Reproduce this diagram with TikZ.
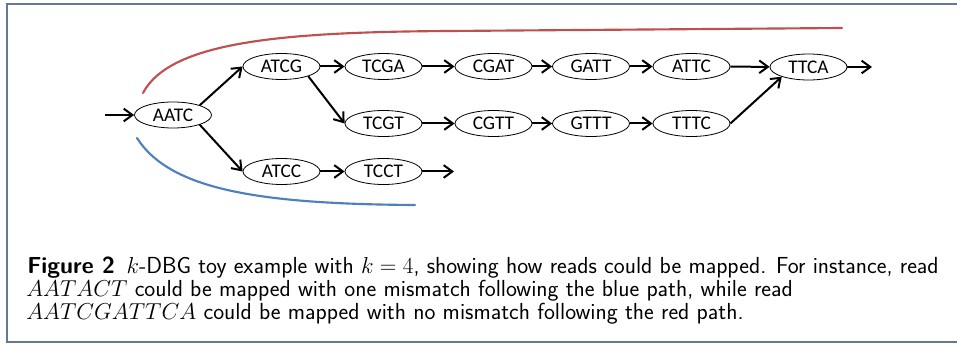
\documentclass[tikz,border=0pt]{standalone}
\usepackage{amsmath}
\usepackage{fontspec}
\usepackage{tikz}
\usetikzlibrary{shapes.geometric}
\usetikzlibrary{arrows.meta}
\newfontfamily\kmerfont{Carlito}
\definecolor{ColRed}{RGB}{192,80,77}
\definecolor{ColBlue}{RGB}{79,127,189}
\definecolor{ColFrame}{RGB}{98,122,150}
\tikzstyle{KmerNode}=[ellipse,draw=black,fill=white,line width=.6pt,inner sep=0pt,
minimum width=57.75pt,minimum height=19.5pt,font=\kmerfont\fontsize{14.5}{16}\selectfont]
\tikzstyle{ArcKmer}=[black,line width=1.5pt,-{Straight Barb[length=6.5pt,width=9.5pt]}]
\tikzstyle{ReadPath}=[line width=1.6pt,line cap=round]
\tikzstyle{CaptionLine}=[anchor=base west,inner sep=0pt,
font=\sffamily\fontsize{17.4}{18}\selectfont]

\begin{document}
\begin{tikzpicture}[x=0.75pt,y=-0.75pt]
        \useasboundingbox (0,0) rectangle (957,345);
        \draw[ColFrame,line width=1.5pt] (957,4) -- (7,4) -- (7,342) -- (957,342);
        % read paths
        \draw[ReadPath,ColRed] (143,93) .. controls (170,42) and (280,32) .. (450,31) -- (842,28);
        \draw[ReadPath,ColBlue] (137,138) .. controls (170,190) and (260,204) .. (415,205);
        % k-mers
        \node[KmerNode](aatc)at(173,115){AATC};
        \node[KmerNode](atcg)at(281.5,66.5){ATCG};
        \node[KmerNode](tcga)at(383.5,66.5){TCGA};
        \node[KmerNode](cgat)at(493.5,66.5){CGAT};
        \node[KmerNode](gatt)at(591,66.5){GATT};
        \node[KmerNode](attc)at(691.5,66.5){ATTC};
        \node[KmerNode](ttca)at(808.5,67){TTCA};
        \node[KmerNode](tcgt)at(383.5,123.5){TCGT};
        \node[KmerNode](cgtt)at(493.5,123.5){CGTT};
        \node[KmerNode](gttt)at(591,123.5){GTTT};
        \node[KmerNode](tttc)at(691.5,123.5){TTTC};
        \node[KmerNode](atcc)at(281.5,171.5){ATCC};
        \node[KmerNode](tcct)at(383.5,171.5){TCCT};
        \coordinate(in)at(105,115);
        \coordinate(out1)at(872,67);
        \coordinate(out2)at(454,171.5);
        % arcs
        \draw[ArcKmer](in)--(aatc.west);
        \draw[ArcKmer](aatc.20)--(atcg.west);
        \draw[ArcKmer](aatc.-20)--(atcc.west);
        \draw[ArcKmer](atcg)--(tcga);
        \draw[ArcKmer](tcga)--(cgat);
        \draw[ArcKmer](cgat)--(gatt);
        \draw[ArcKmer](gatt)--(attc);
        \draw[ArcKmer](attc)--(ttca);
        \draw[ArcKmer](ttca.east)--(out1);
        \draw[ArcKmer](atcg.-20)--(tcgt.west);
        \draw[ArcKmer](tcgt)--(cgtt);
        \draw[ArcKmer](cgtt)--(gttt);
        \draw[ArcKmer](gttt)--(tttc);
        \draw[ArcKmer](tttc.east)--(ttca.200);
        \draw[ArcKmer](atcc)--(tcct);
        \draw[ArcKmer](tcct.east)--(out2);
        % caption
        \node[CaptionLine](cap1)at(27,274){\textbf{Figure 2}\enspace$k$-DBG toy example with $k=4$, showing how reads could be mapped. For instance, read};
        \node[CaptionLine](cap2)at(26,297){$AATACT$ could be mapped with one mismatch following the blue path, while read};
        \node[CaptionLine](cap3)at(26,320){$AATCGATTCA$ could be mapped with no mismatch following the red path.};
    \end{tikzpicture}
\end{document}
